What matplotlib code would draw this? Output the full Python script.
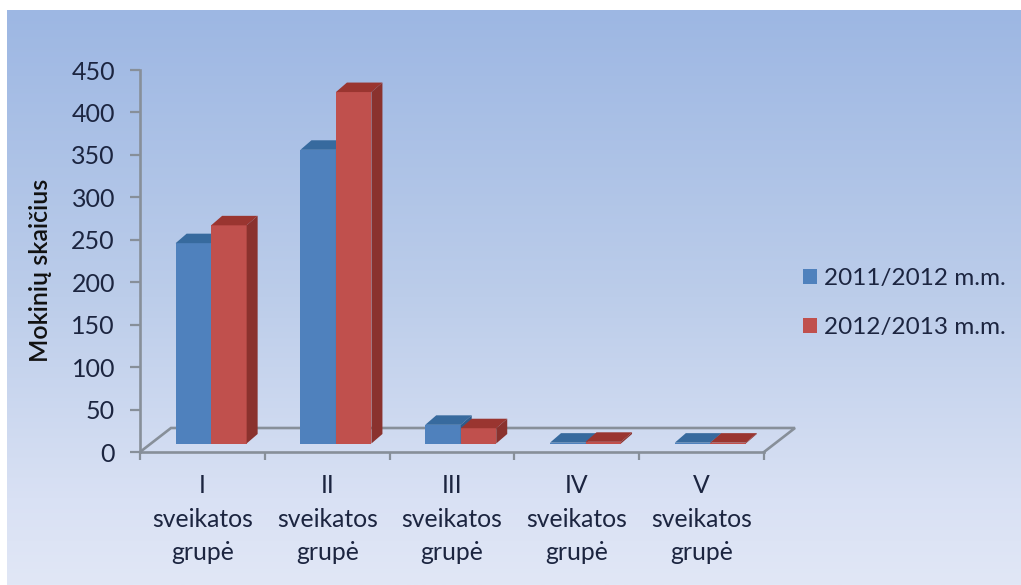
import numpy as np
import matplotlib
matplotlib.use('Agg')
import matplotlib.pyplot as plt
from matplotlib.colors import LinearSegmentedColormap
from matplotlib.patches import Polygon

categories = ["I\nsveikatos\ngrupė", "II\nsveikatos\ngrupė", "III\nsveikatos\ngrupė",
              "IV\nsveikatos\ngrupė", "V\nsveikatos\ngrupė"]
series_names = ["2011/2012 m.m.", "2012/2013 m.m."]
values_2011 = [236, 346, 22, 1, 1]
values_2012 = [257, 414, 18, 2, 1]
y_ticks = [0, 50, 100, 150, 200, 250, 300, 350, 400, 450]

W, H = 1021, 585
plt.rcParams['font.family'] = ['Lato', 'DejaVu Sans']
text_col = '#1c2540'
axis_col = '#878f99'

fig = plt.figure(figsize=(W / 100, H / 100), dpi=100, facecolor='white')

# background panel
bg = fig.add_axes([7 / W, 0, 1 - 7 / W, 1 - 10 / H])
cmap = LinearSegmentedColormap.from_list('panel', [(0, '#9db7e3'), (0.5, '#bccdea'), (0.85, '#d9e1f4'), (1, '#e1e7f6')])
bg.imshow(np.linspace(0, 1, 256).reshape(-1, 1), aspect='auto', cmap=cmap)
bg.axis('off')

# axes = front edge of the floor
ax = fig.add_axes([140 / W, 1 - 452 / H, 624 / W, 382 / H])
ax.patch.set_alpha(0)
ax.set_xlim(0, 5)
ax.set_ylim(0, 450)

px = 5 / 624
py = 450 / 382
base = 8.5 * py
bar_w = 35.5 * px
dx = 11 * px
dy = 9.5 * py

# floor
floor_dx = 31 * px
floor_dy = 24 * py
ax.plot([0, floor_dx, 5 + floor_dx, 5], [0, floor_dy, floor_dy, 0], color=axis_col, lw=1.9,
        clip_on=False, zorder=1, solid_joinstyle='miter')

x = np.arange(5) + 0.57
styles = [('#4f81bd', '#376a9e', '#2f5c8c'), ('#c0504d', '#9a3530', '#8a322e')]
bars = []
for k, vals in enumerate([values_2011, values_2012]):
    front, top, side = styles[k]
    left = x - bar_w + k * bar_w
    b = ax.bar(left, vals, bar_w, bottom=base, align='edge', color=front, zorder=3 + k, label=series_names[k])
    bars.append(b)
    for l, v in zip(left, vals):
        t = base + v
        ax.add_patch(Polygon([(l, t), (l + dx, t + dy), (l + bar_w + dx, t + dy), (l + bar_w, t)],
                             color=top, lw=0, zorder=3 + k, clip_on=False))
        ax.add_patch(Polygon([(l + bar_w, base), (l + bar_w + dx, base + dy), (l + bar_w + dx, t + dy), (l + bar_w, t)],
                             color=side, lw=0, zorder=3 + k, clip_on=False))

for s in ['top', 'right']:
    ax.spines[s].set_visible(False)
for s in ['left', 'bottom']:
    ax.spines[s].set_color(axis_col)
    ax.spines[s].set_linewidth(1.9)

ax.set_yticks(y_ticks)
ax.set_xticks(np.arange(6))
ax.set_xticklabels([])
ax.set_xticks(np.arange(5) + 0.5, categories, minor=True)
ax.tick_params(axis='y', length=7, width=1.6, color=axis_col, labelsize=18, labelcolor=text_col, pad=11)
ax.tick_params(axis='x', which='major', length=6, width=1.6, color=axis_col)
ax.tick_params(axis='x', which='minor', length=0, labelsize=17.8, labelcolor=text_col, pad=16)
for lab in ax.get_xticklabels(minor=True):
    lab.set_linespacing(1.55)
ax.set_ylabel("Mokinių skaičius", fontsize=18, color='#111111', fontweight='semibold', labelpad=14, y=0.475)

leg = ax.legend(handles=bars, loc='upper left', bbox_to_anchor=(803 / W, 1 - 268 / H),
                bbox_transform=fig.transFigure, frameon=False, fontsize=17.5, labelcolor=text_col,
                handlelength=0.58, handleheight=0.58, handletextpad=0.3, labelspacing=1.15,
                borderpad=0, borderaxespad=0)

fig.savefig('out.png', dpi=100)
